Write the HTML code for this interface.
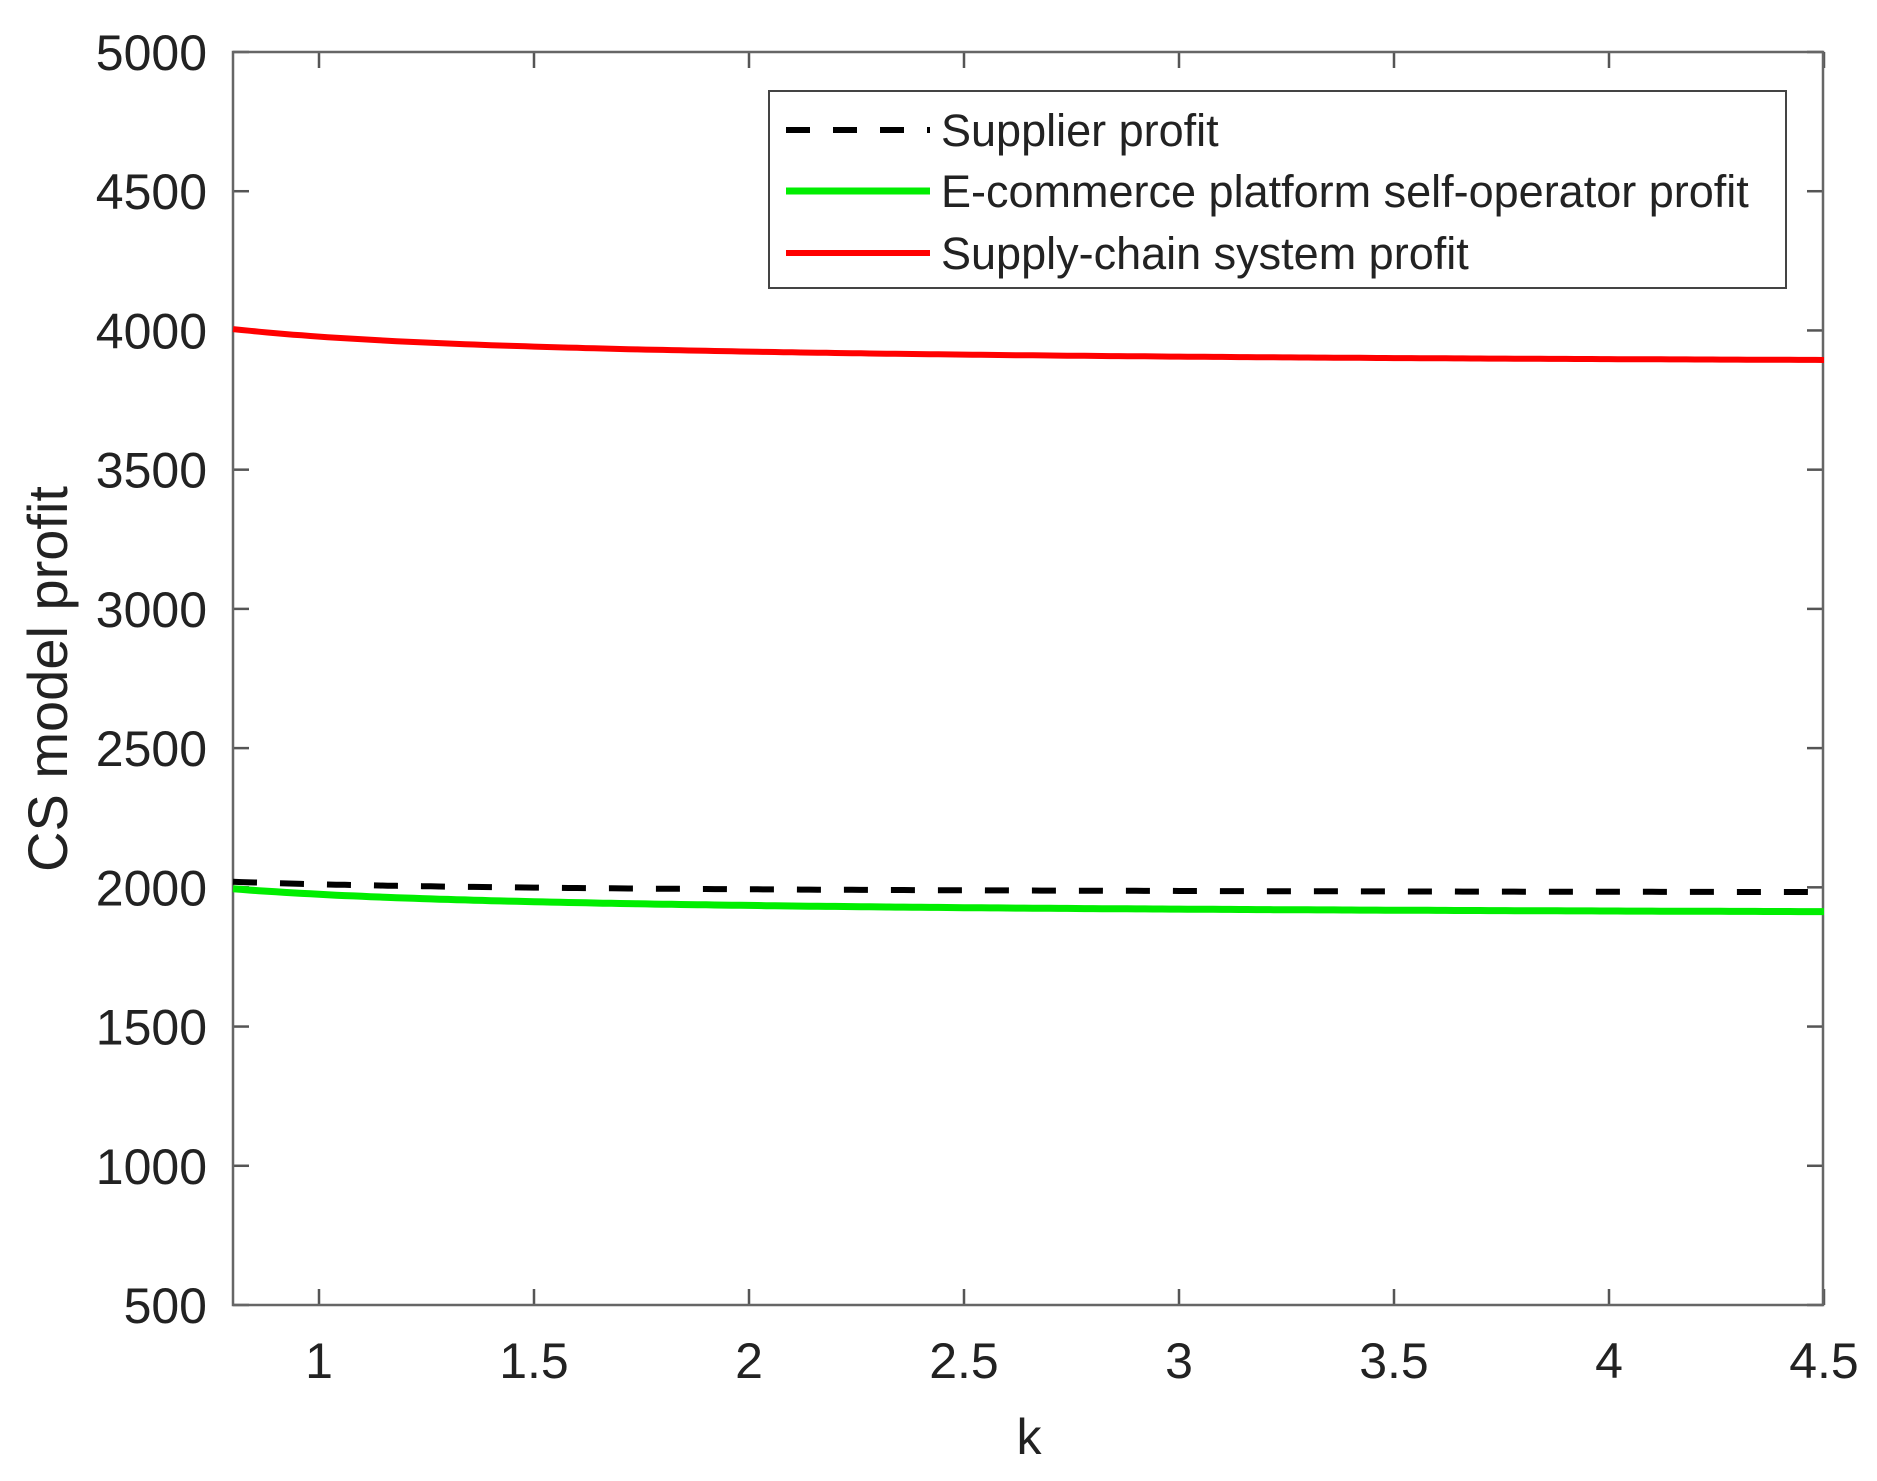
<!DOCTYPE html>
<html><head><meta charset="utf-8"><style>
html,body{margin:0;padding:0;background:#fff;}
svg{display:block;}
text{font-family:"Liberation Sans",Arial,sans-serif;fill:#222;}
</style></head><body>
<svg id="s" width="1877" height="1481" viewBox="0 0 1877 1481" xmlns="http://www.w3.org/2000/svg">
<rect width="1877" height="1481" fill="#fff"/>
<g id="ticks" stroke="#555" stroke-width="2.5"></g>
<rect x="233" y="52" width="1590" height="1253" fill="none" stroke="#666" stroke-width="2.5"/>
<g id="lab" font-size="50"></g>
<text x="1029" y="1454" font-size="50" text-anchor="middle">k</text>
<text transform="translate(67,679) rotate(-90)" font-size="56" text-anchor="middle">CS model profit</text>
<path id="red" fill="none" stroke="#ff0000" stroke-width="6"/>
<path id="grn" fill="none" stroke="#00ee00" stroke-width="7"/>
<path id="blk" fill="none" stroke="#000" stroke-width="6" stroke-dasharray="24 23"/>
<rect x="769" y="91" width="1017" height="197" fill="#fff" stroke="#444" stroke-width="2"/>
<line x1="786" y1="130" x2="930" y2="130" stroke="#000" stroke-width="6" stroke-dasharray="24 23"/>
<line x1="786" y1="191" x2="930" y2="191" stroke="#00ee00" stroke-width="7"/>
<line x1="786" y1="253" x2="930" y2="253" stroke="#ff0000" stroke-width="6"/>
<g font-size="45">
<text x="941" y="146">Supplier profit</text>
<text x="941" y="207">E-commerce platform self-operator profit</text>
<text x="941" y="269">Supply-chain system profit</text>
</g>
</svg>
<script>
var X=function(k){return 233+(k-0.8)*430;};
var Y=function(v){return 52+(5000-v)*1253/4500;};
var t=document.getElementById('ticks'),l=document.getElementById('lab'),ns="http://www.w3.org/2000/svg";
function el(p,tag,a,txt){var e=document.createElementNS(ns,tag);for(var k in a)e.setAttribute(k,a[k]);if(txt)e.textContent=txt;p.appendChild(e);}
for(var v=500;v<=5000;v+=500){var y=Y(v);
el(t,'line',{x1:233,y1:y,x2:249,y2:y});el(t,'line',{x1:1807,y1:y,x2:1823,y2:y});
el(l,'text',{x:207,y:y+18,'text-anchor':'end'},String(v));}
[1,1.5,2,2.5,3,3.5,4,4.5].forEach(function(k){var x=X(k);
el(t,'line',{x1:x,y1:1305,x2:x,y2:1289});el(t,'line',{x1:x,y1:52,x2:x,y2:68});
el(l,'text',{x:x,y:1378,'text-anchor':'middle'},String(k));});
function path(f){var d='';for(var k=0.8;k<=4.5001;k+=0.02){d+=(d?'L':'M')+X(k).toFixed(1)+','+Y(f(k)).toFixed(1);}return d;}
document.getElementById('red').setAttribute('d',path(function(k){return 3870+108/k;}));
document.getElementById('grn').setAttribute('d',path(function(k){return 1895+80/k;}));
document.getElementById('blk').setAttribute('d',path(function(k){return 1975+36/k;}));
</script>
</body></html>
